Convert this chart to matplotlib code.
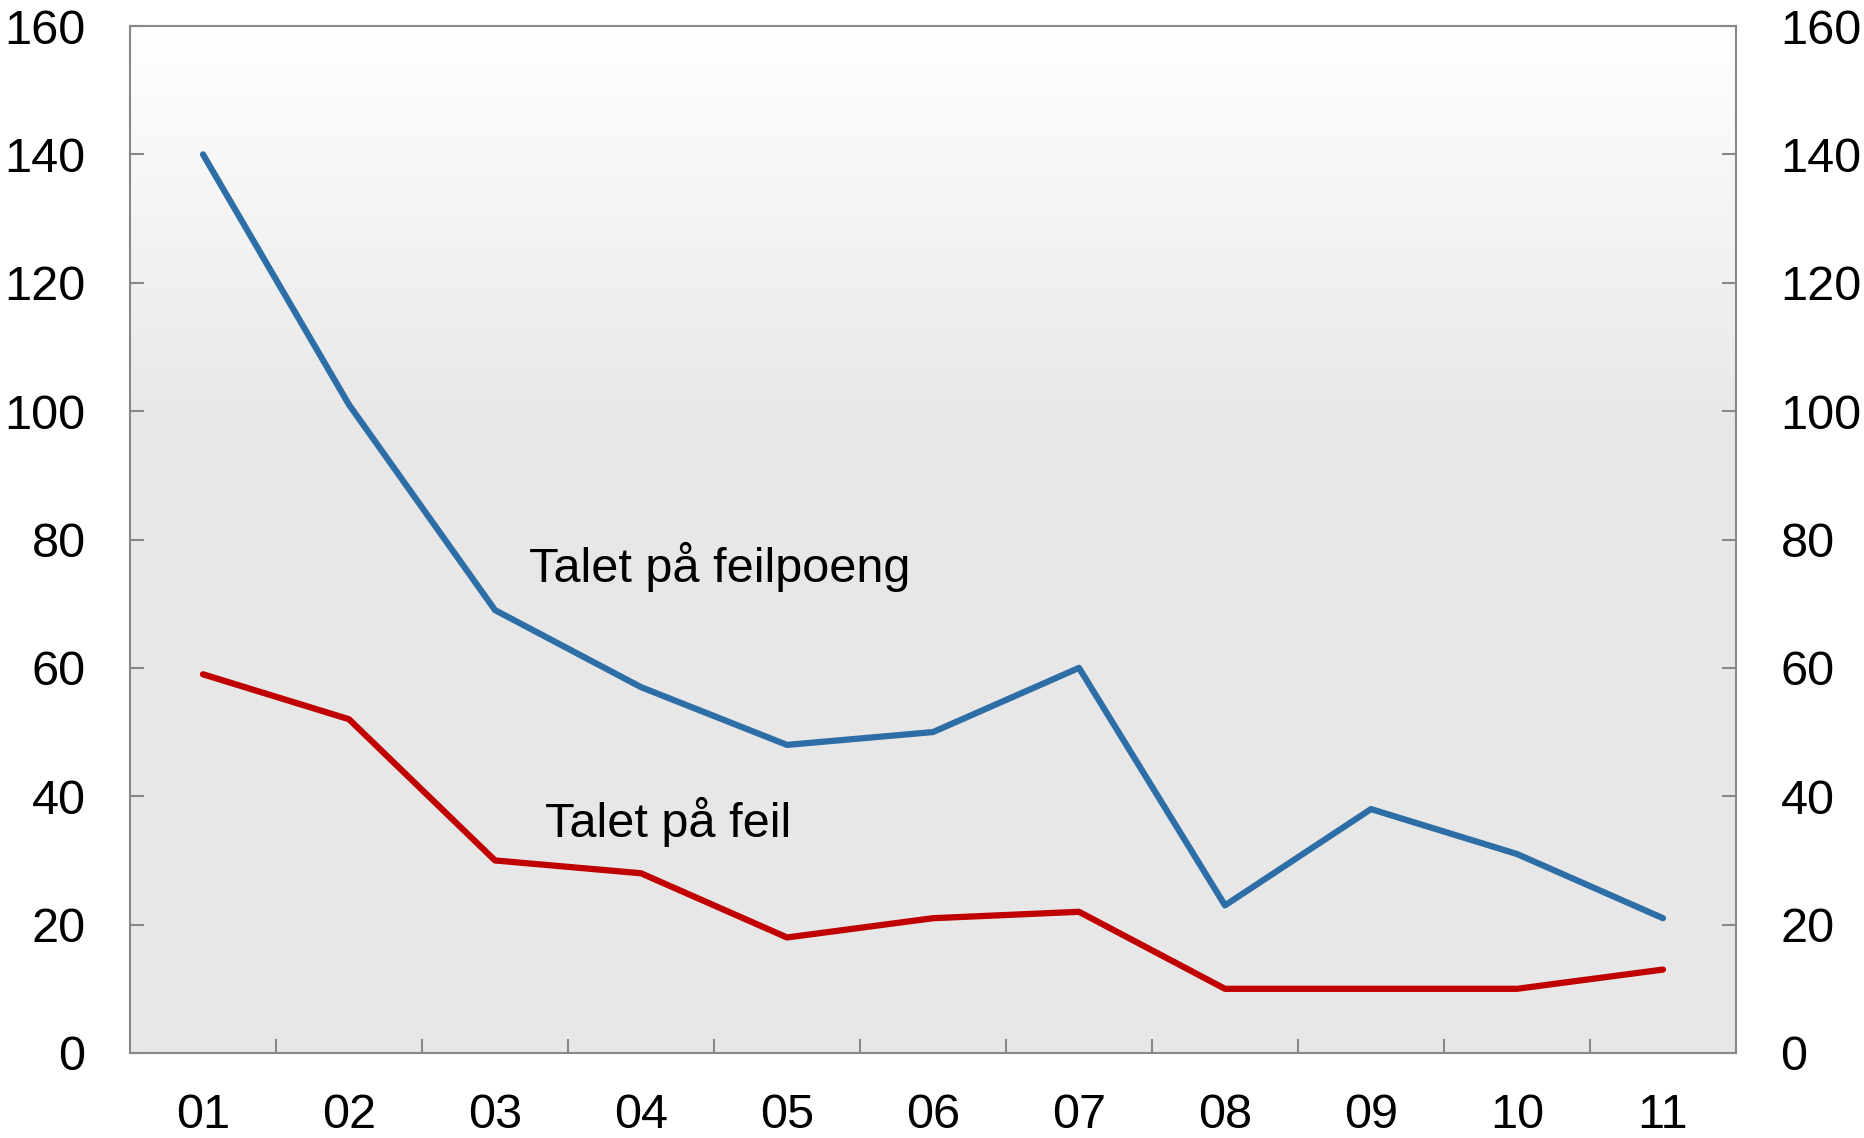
import matplotlib
matplotlib.use("Agg")
import matplotlib.pyplot as plt
import numpy as np
from matplotlib.colors import LinearSegmentedColormap

categories = ["01", "02", "03", "04", "05", "06", "07", "08", "09", "10", "11"]
feilpoeng = [140, 101, 69, 57, 48, 50, 60, 23, 38, 31, 21]
feil = [59, 52, 30, 28, 18, 21, 22, 10, 10, 10, 13]
yticks = [0, 20, 40, 60, 80, 100, 120, 140, 160]

plt.rcParams['font.family'] = ['Liberation Sans', 'DejaVu Sans']

fig = plt.figure(figsize=(18.65, 11.38), dpi=100)
ax = fig.add_axes([130/1865, 1 - 1053/1138, (1736-130)/1865, (1053-26)/1138])

x = np.arange(len(categories))
ax.set_xlim(-0.5, len(categories) - 0.5)
ax.set_ylim(0, 160)

# gradient background
grad = np.linspace(0, 1, 256).reshape(-1, 1)
cmap = LinearSegmentedColormap.from_list("bg", [(0, "#e7e7e7"), (0.6, "#e7e7e7"), (1.0, "#ffffff")])
ax.imshow(grad, aspect='auto', cmap=cmap, origin='lower',
          extent=[-0.5, len(categories) - 0.5, 0, 160], zorder=0)

ax.plot(x, feilpoeng, color="#2e6ea6", lw=4.5, solid_joinstyle='round', solid_capstyle='round', zorder=3)
ax.plot(x, feil, color="#c00000", lw=4.5, solid_joinstyle='round', solid_capstyle='round', zorder=3)

ax.text(2.233, 73.4, "Talet på feilpoeng", fontsize=35, va='baseline', ha='left', color='black')
ax.text(2.34, 33.7, "Talet på feil", fontsize=35, va='baseline', ha='left', color='black')

for s in ax.spines.values():
    s.set_color("#888888")
    s.set_linewidth(1.5)

ax.set_yticks(yticks)
ax.set_yticklabels([str(v) for v in yticks])
ax.tick_params(axis='y', direction='in', length=10, width=1.5, color="#888888",
               left=True, right=True, labelleft=True, labelright=True,
               labelsize=35, pad=32)

ax.set_xticks(x)
ax.set_xticklabels(categories)
ax.tick_params(axis='x', which='major', length=0, labelsize=35, pad=29)
ax.set_xticks(x[:-1] + 0.5, minor=True)
ax.tick_params(axis='x', which='minor', direction='in', length=10, width=1.5, color="#888888")

fig.savefig("out.png", dpi=100)
